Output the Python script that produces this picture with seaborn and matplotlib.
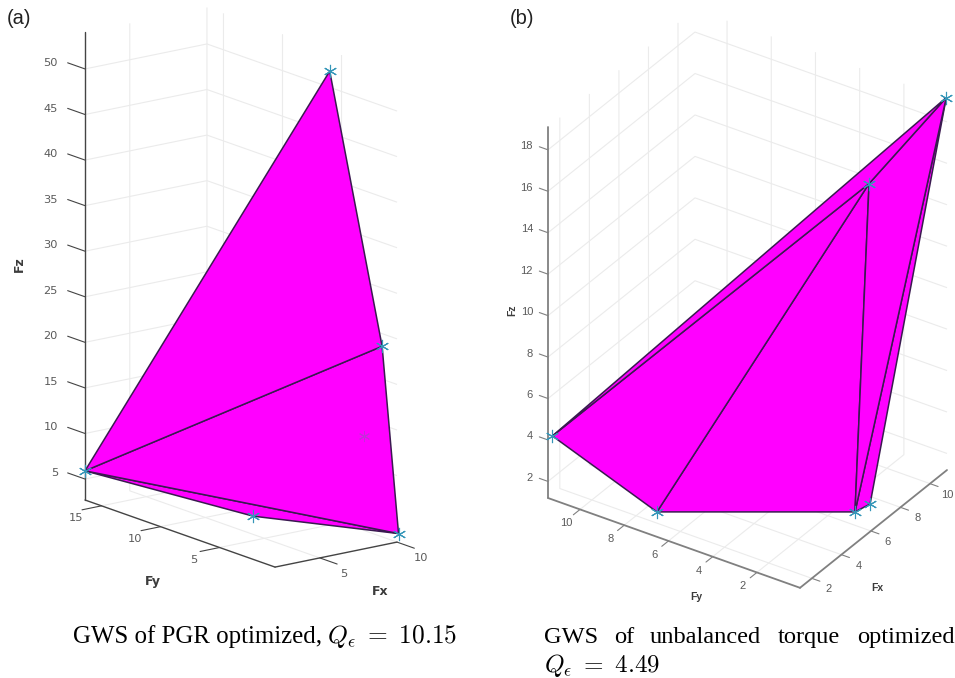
import matplotlib
matplotlib.use('Agg')
import numpy as np
import matplotlib.pyplot as plt
import seaborn as sns
from mpl_toolkits.mplot3d import proj3d
from mpl_toolkits.mplot3d.art3d import Poly3DCollection

# panel (a) vertices
a_fx = [2.1, 8.7, 9.8, 10.1, 6.8, 8.6]
a_fy = [16.4, 4.3, 1.3, 0.3, 8.3, 1.3]
a_fz = [5.9, 53.0, 23.8, 3.6, 3.0, 14.4]
a_faces = [(0, 1, 2), (0, 2, 3), (0, 3, 4)]
a_hidden = [5]
a_xticks = [5, 10]
a_yticks = [5, 10, 15]
a_zticks = [5, 10, 15, 20, 25, 30, 35, 40, 45, 50]

# panel (b) vertices
b_fx = [11.1, 7.37, 1.2, 1.99, 6.42, 7.44]
b_fy = [0.05, 1.05, 11.25, 7.05, 1.05, 1.05]
b_fz = [19.2, 16.8, 4.27, 1.75, 1.5, 1.3]
b_faces = [(2, 0, 1), (2, 1, 3), (1, 3, 4), (1, 4, 0), (0, 4, 5)]
b_hidden = []
b_xticks = [2, 4, 6, 8, 10]
b_yticks = [2, 4, 6, 8, 10]
b_zticks = [2, 4, 6, 8, 10, 12, 14, 16, 18]

W, H = 955, 678
sns.set_theme(style='white', font='Liberation Sans', rc={
    'grid.color': '#ebebeb', 'grid.linewidth': 0.8,
    'mathtext.fontset': 'cm', 'axes3d.grid': True})
star_color = sns.color_palette(['#3596b8'])[0]

fig = plt.figure(figsize=(W / 100, H / 100), dpi=100)


def to_2d(ax, x, y, z):
    u, v, _ = proj3d.proj_transform(x, y, z, ax.get_proj())
    return u, v


def to_px(ax, x, y, z):
    fig.canvas.draw()
    return ax.transData.transform(to_2d(ax, x, y, z))


def put(ax, point, offset, s, **kw):
    kw.setdefault('ha', 'center')
    kw.setdefault('va', 'center')
    ax.annotate(s, xy=to_2d(ax, *point), xycoords='data', xytext=(offset[0], -offset[1]),
                textcoords='offset pixels', annotation_clip=False, **kw)


def panel(fx, fy, fz, faces, hidden, xticks, yticks, zticks, xlim, ylim, zlim,
          view, box, left_px, right_px, axis_style, tick_len, tick_font, off, label_off):
    ax = fig.add_axes([0.1, 0.05, 0.6, 0.8], projection='3d', computed_zorder=False)
    ax.set_facecolor('none')
    ax.set_proj_type('ortho')
    ax.view_init(elev=view[0], azim=view[1])
    ax.set_xlim(*xlim, view_margin=0)
    ax.set_ylim(*ylim, view_margin=0)
    ax.set_zlim(*zlim, view_margin=0)
    ax.set_box_aspect(box)

    verts = np.column_stack([fx, fy, fz])
    ax.add_collection3d(Poly3DCollection([verts[list(f)] for f in faces],
                                         facecolor='#ff00ff', edgecolor='#3a1a50',
                                         linewidth=1.1, zorder=3))
    shown = [i for i in range(len(fx)) if i not in hidden]
    ax.plot(verts[shown, 0], verts[shown, 1], verts[shown, 2], ls='none', marker=(6, 2, 0),
            ms=9.5, mew=0.8, color=star_color, zorder=5)
    if hidden:
        ax.plot(verts[hidden, 0], verts[hidden, 1], verts[hidden, 2], ls='none', marker=(6, 2, 0),
                ms=8, mew=0.7, color='#c22fd8', zorder=5)

    ax.set_xticks(xticks)
    ax.set_yticks(yticks)
    ax.set_zticks(zticks)
    ax.set_xticklabels([])
    ax.set_yticklabels([])
    ax.set_zticklabels([])
    ax.zaxis._get_tickdir = lambda pos: 1
    for axis, length in zip((ax.xaxis, ax.yaxis, ax.zaxis), tick_len):
        axis.set_pane_color((1, 1, 1, 0))
        axis.pane.set_edgecolor('none')
        axis.line.set_color(axis_style[0])
        axis.line.set_linewidth(axis_style[1])
        axis._axinfo['tick']['color'] = axis_style[0]
        axis._axinfo['tick']['linewidth'] = {True: 0.8, False: 0.5}
        axis._axinfo['tick']['outward_factor'] = length
        axis._axinfo['tick']['inward_factor'] = 0.0
    ax.tick_params(color=axis_style[0], width=0.8)

    # scale and shift the box so the floor corners land where they should
    p0 = (xlim[0], ylim[1], zlim[0])
    p1 = (xlim[1], ylim[0], zlim[0])
    a, b = to_px(ax, *p0), to_px(ax, *p1)
    ax.set_box_aspect(box, zoom=(right_px[0] - left_px[0]) / (b[0] - a[0]))
    a = to_px(ax, *p0)
    dx, dy = left_px[0] - a[0], (H - left_px[1]) - a[1]
    pos = ax.get_position(original=True)
    ax.set_position([pos.x0 + dx / W, pos.y0 + dy / H, pos.width, pos.height])

    # tick labels and axis names
    lab = dict(color='#5a5a5a', **tick_font)
    for t in xticks:
        put(ax, (t, ylim[0], zlim[0]), off[0], str(t), **lab)
    for t in yticks:
        put(ax, (xlim[0], t, zlim[0]), off[1], str(t), **lab)
    for t in zticks:
        put(ax, (xlim[0], ylim[1], t), off[2], str(t), ha='right', **lab)
    name = dict(color='#3c3c3c', fontweight='bold', family=tick_font['family'])
    put(ax, (np.mean(xlim), ylim[0], zlim[0]), label_off[0], 'Fx', fontsize=label_off[3], **name)
    put(ax, (xlim[0], np.mean(ylim), zlim[0]), label_off[1], 'Fy', fontsize=label_off[3], **name)
    put(ax, (xlim[0], ylim[1], np.mean(zlim)), label_off[2], 'Fz', rotation=90,
        fontsize=label_off[3], **name)
    return ax


ax_a = panel(a_fx, a_fy, a_fz, a_faces, a_hidden, a_xticks, a_yticks, a_zticks,
             (2.1, 10), (0.3, 16.4), (2.7, 54), (15.6, -127.3), (153.5, 314, 486),
             (85, 500), (397, 542), ('#444444', 1.0), (-1.14, -2.0, 1.14),
             dict(family='DejaVu Sans', fontsize=8.2),
             ((24, 16), (-26, 12), (-27, -6)),
             ((44, 37), (-27, 48), (-66, -2), 9))
ax_b = panel(b_fx, b_fy, b_fz, b_faces, b_hidden, b_xticks, b_yticks, b_zticks,
             (1.2, 11.15), (0.05, 11.45), (1.2, 19.1), (32.3, -146.3), (265, 303, 439),
             (548, 498), (947, 470), ('#808080', 1.3), (-0.4, -0.57, 0.43),
             dict(family='Liberation Sans', fontsize=8),
             ((17, 11), (-14, 14), (-15, -3.5)),
             ((3.5, 59), (22, 54), (-36, -2), 7.5))

fig.text(7 / W, 1 - 18 / H, '(a)', fontsize=14.5, color='#222222', va='center')
fig.text(510 / W, 1 - 18 / H, '(b)', fontsize=14.5, color='#222222', va='center')

serif = 'Liberation Serif'
fig.text(73 / W, 1 - 643 / H, 'GWS of PGR optimized,', family=serif, fontsize=17.9,
         color='black', va='baseline')
fig.text(327 / W, 1 - 643 / H, r'$Q_{\epsilon}$ $=$ $10.15$', fontsize=18.3,
         color='black', va='baseline')
words = ['GWS', 'of', 'unbalanced', 'torque', 'optimized']
word_x = [544, 614, 650, 778, 857]
for word, x in zip(words, word_x):
    fig.text(x / W, 1 - 643 / H, word, family=serif, fontsize=17.6, color='black', va='baseline')
fig.text(544 / W, 1 - 672 / H, r'$Q_{\epsilon}$ $=$ $4.49$', fontsize=18.1,
         color='black', va='baseline')

fig.savefig('out.png', dpi=100)
